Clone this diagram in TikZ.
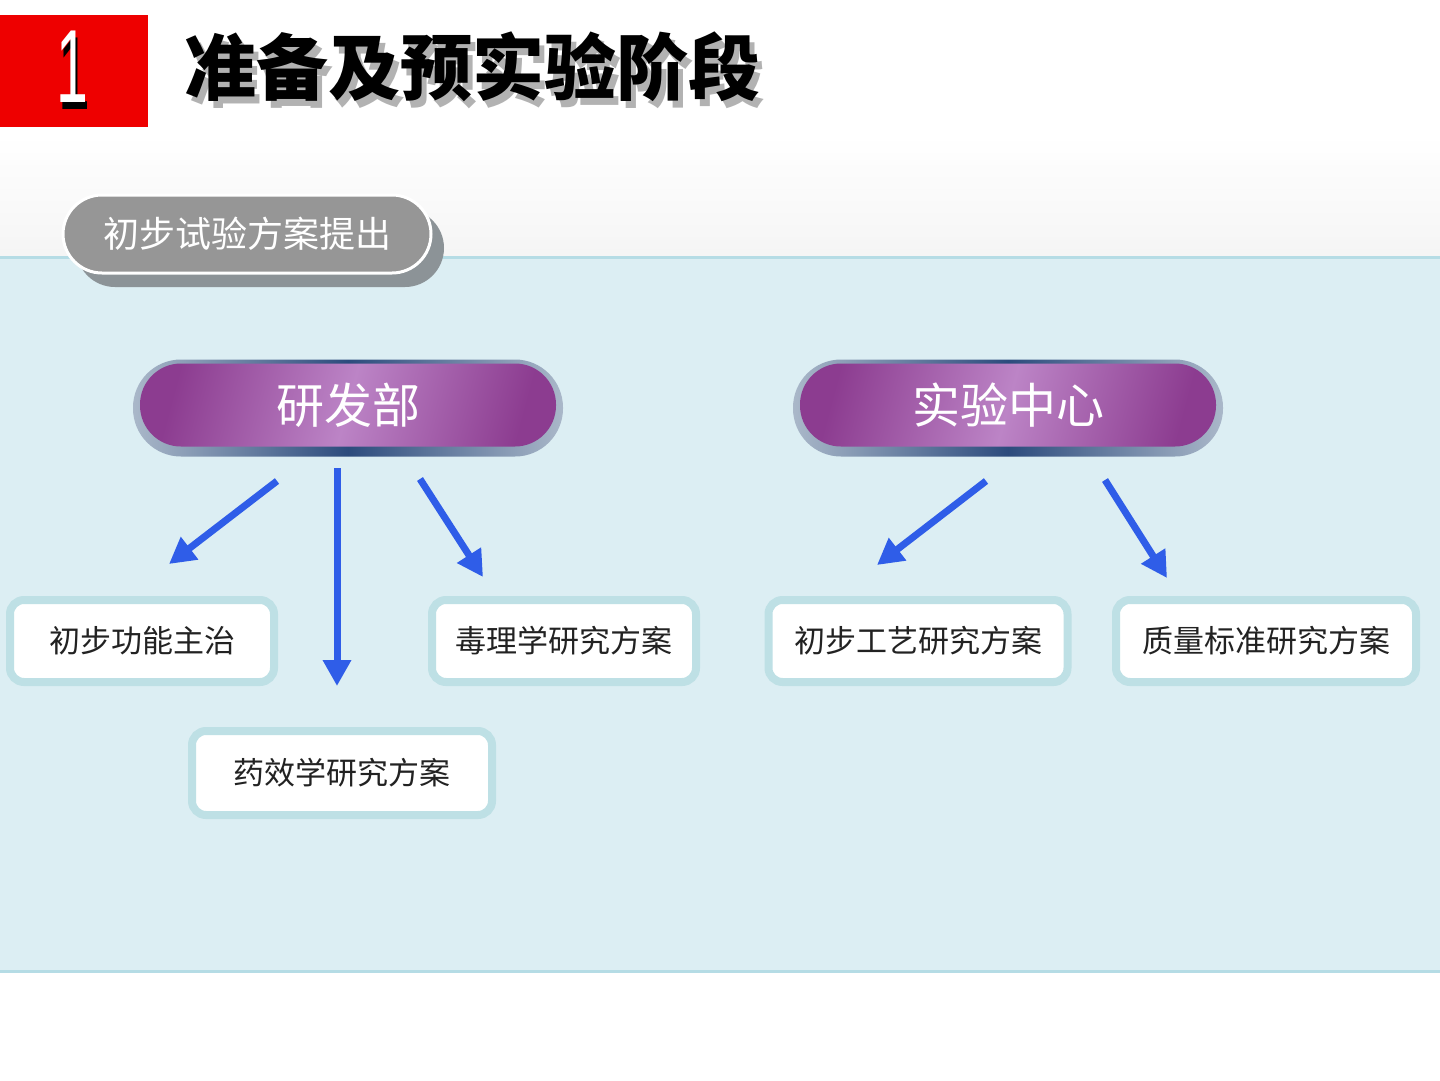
\documentclass[tikz,border=0pt]{standalone}
\usepackage{fontspec}
\newfontfamily\cjk{Noto Sans CJK SC}
\newfontfamily\numfont{Liberation Sans}
\usetikzlibrary{arrows.meta}

\definecolor{titlered}{HTML}{EE0000}
\definecolor{panelfill}{HTML}{DCEEF3}
\definecolor{paneledge}{HTML}{B5DCE5}
\definecolor{pillgray}{HTML}{969696}
\definecolor{pillshadow}{HTML}{8C9397}
\definecolor{rimgray}{HTML}{AAB8C9}
\definecolor{rimnavy}{HTML}{2C4B7D}
\definecolor{purpdark}{HTML}{8C3C90}
\definecolor{purplight}{HTML}{BC84C6}
\definecolor{boxedge}{HTML}{BEE0E5}
\definecolor{boxtext}{HTML}{222222}
\definecolor{arrblue}{HTML}{2F5DE8}

% text with a dropped shadow behind it
\newcommand{\shadowtext}[4]{\makebox[0pt][l]{\hspace{#2}\raisebox{-#3}{\color{#4}#1}}#1}

\tikzset{
  planbox/.style={draw=boxedge, line width=8pt, fill=white, rounded corners=14pt,
    minimum height=82pt, inner sep=0pt, text=boxtext, font=\cjk\fontsize{31}{34}\selectfont},
  pillrim/.style={rounded corners=48pt, minimum width=430pt, minimum height=97pt,
    left color=rimgray, right color=rimgray, middle color=rimnavy},
  pillcore/.style={rounded corners=41pt, minimum width=416pt, minimum height=83pt,
    left color=purpdark, right color=purpdark, middle color=purplight, shading angle=75,
    text=white, font=\cjk\fontsize{48}{52}\selectfont},
  bluearrow/.style={draw=arrblue, line width=7pt, -{Triangle[width=27pt,length=26pt]}},
}

\begin{document}
\begin{tikzpicture}[x=1pt,y=-1pt]
\useasboundingbox (0,0) rectangle (1440,1080);
\fill[white] (0,0) rectangle (1440,1080);

% heading
\fill[titlered] (0,15) rectangle (148,127);
\node[text=white, font=\numfont\fontsize{104}{104}\selectfont, inner sep=0pt] (num) at (72,70)
  {\scalebox{0.55}[1]{\shadowtext{1}{5pt}{7pt}{black}}};
\node[text=black, font=\cjk\bfseries\fontsize{72}{76}\selectfont, anchor=west] (title) at (181,70)
  {\shadowtext{准备及预实验阶段}{5pt}{7pt}{black!30}};

% background band and panel
\shade[top color=white, bottom color=black!4] (0,135) rectangle (1440,257);
\draw[fill=panelfill, draw=paneledge, line width=3pt] (-5,257) rectangle (1445,971);

% stage label
\fill[pillshadow, rounded corners=39pt] (260,248) ++(-184,-39) rectangle ++(368,78);
\node[draw=white, line width=3pt, fill=pillgray, rounded corners=39pt, minimum width=368pt,
  minimum height=78pt, text=white, font=\cjk\fontsize{36}{40}\selectfont] (stage) at (247,234) {初步试验方案提出};

% departments
\node[pillrim] (rdrim) at (348,408) {};
\node[pillcore] (rd) at (348,405) {研发部};
\node[pillrim] (labrim) at (1008,408) {};
\node[pillcore] (lab) at (1008,405) {实验中心};

% plans
\node[planbox, minimum width=264pt] (func) at (142,641) {初步功能主治};
\node[planbox, minimum width=264pt] (tox) at (564,641) {毒理学研究方案};
\node[planbox, minimum width=300pt, minimum height=84pt] (pharm) at (342,773) {药效学研究方案};
\node[planbox, minimum width=299pt] (craft) at (918,641) {初步工艺研究方案};
\node[planbox, minimum width=300pt] (qual) at (1266,641) {质量标准研究方案};

% arrows
\coordinate (a1s) at (277,481); \coordinate (a1e) at (169,564);
\coordinate (a2s) at (337,468); \coordinate (a2e) at (337,686);
\coordinate (a3s) at (420,479); \coordinate (a3e) at (483,577);
\coordinate (a4s) at (986,481); \coordinate (a4e) at (877,565);
\coordinate (a5s) at (1105,480); \coordinate (a5e) at (1167,578);
\draw[bluearrow] (a1s) -- (a1e);
\draw[bluearrow] (a2s) -- (a2e);
\draw[bluearrow] (a3s) -- (a3e);
\draw[bluearrow] (a4s) -- (a4e);
\draw[bluearrow] (a5s) -- (a5e);
\end{tikzpicture}
\end{document}
